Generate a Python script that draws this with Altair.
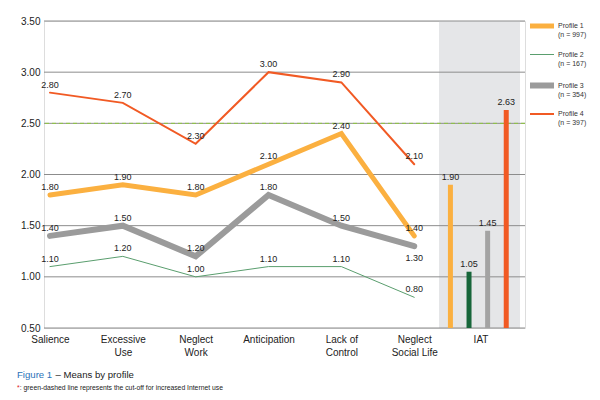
import altair as alt
import pandas as pd

# ---------------- data ----------------
categories = ["Salience", "Excessive Use", "Neglect Work", "Anticipation",
              "Lack of Control", "Neglect Social Life"]
tick_labels = [["Salience"], ["Excessive", "Use"], ["Neglect", "Work"], ["Anticipation"],
               ["Lack of", "Control"], ["Neglect", "Social Life"], ["IAT"]]
profiles = ["Profile 1", "Profile 2", "Profile 3", "Profile 4"]
sample_sizes = [997, 167, 354, 397]
profile1 = [1.80, 1.90, 1.80, 2.10, 2.40, 1.40]
profile2 = [1.10, 1.20, 1.00, 1.10, 1.10, 0.80]
profile3 = [1.40, 1.50, 1.20, 1.80, 1.50, 1.30]
profile4 = [2.80, 2.70, 2.30, 3.00, 2.90, 2.10]
iat_means = [1.90, 1.05, 1.45, 2.63]
y_ticks = [0.5, 1.0, 1.5, 2.0, 2.5, 3.0, 3.5]
cutoff = 2.5

# ---------------- styles ----------------
line_colors = ["#fbb040", "#5a9e6e", "#9b9b9b", "#f15a24"]
bar_colors = ["#fbb040", "#17663a", "#a3a3a3", "#f15a24"]
line_widths = [5, 1, 6, 2]
FONT = "Liberation Sans"

# layout helpers (in x-scale units: one unit per category)
X_MIN, X_MAX = -0.0134, 6.452
PANEL_START = 5.34
IAT_LABEL_POS = 5.91
BAR_CENTER = 5.88
BAR_STEP = 0.2554

rows = []
for p, vals in zip(profiles, [profile1, profile2, profile3, profile4]):
    for i, (c, v) in enumerate(zip(categories, vals)):
        rows.append({"profile": p, "category": c, "pos": i, "value": v,
                     "label": f"{v:.2f}"})
lines_df = pd.DataFrame(rows)
below_mask = (lines_df["profile"] == "Profile 3") & (lines_df["category"] == "Neglect Social Life")

bars_df = pd.DataFrame({"profile": profiles, "value": iat_means, "barcolor": bar_colors})
bars_df["pos"] = [BAR_CENTER + (i - 1.5) * BAR_STEP for i in range(len(profiles))]
bars_df["label"] = [f"{v:.2f}" for v in iat_means]

tick_pos = list(range(len(categories))) + [IAT_LABEL_POS]


def lit(lines):
    if len(lines) == 1:
        return "'" + lines[0] + "'"
    return "[" + ",".join("'" + s + "'" for s in lines) + "]"


x_expr = "''"
for pos, lab in reversed(list(zip(tick_pos, tick_labels))):
    x_expr = f"datum.value == {pos} ? {lit(lab)} : ({x_expr})"

leg_expr = "datum.label"
for p, n in reversed(list(zip(profiles, sample_sizes))):
    leg_expr = f"datum.label == '{p}' ? ['{p}', '(n = {n})'] : ({leg_expr})"

xs = alt.Scale(domain=[X_MIN, X_MAX], nice=False, zero=False)
ys = alt.Scale(domain=[0.5, 3.5], nice=False, zero=False)
x_axis = alt.Axis(values=tick_pos, labelExpr=x_expr, grid=False, ticks=False, domain=False,
                  title=None, labelFontSize=10, labelPadding=6, labelBaseline="top",
                  labelLineHeight=13, labelFlush=False, labelOverlap=False,
                  labelColor="#222222", labelFont=FONT)
y_axis = alt.Axis(values=y_ticks, format=".2f", grid=False, ticks=False, domain=False,
                  title=None, labelFontSize=10, labelPadding=4, labelFlush=False,
                  labelOverlap=False, labelColor="#222222", labelFont=FONT)

legend = alt.Legend(title=None, orient="none", legendX=483, legendY=-9.5, padding=0,
                    symbolType="stroke", symbolSize=576, labelExpr=leg_expr,
                    labelFontSize=7, labelOffset=1, rowPadding=3.5,
                    labelColor="#333333", labelFont=FONT, labelBaseline="middle")

one = pd.DataFrame({"a": [0]})

panel = alt.Chart(one).mark_rect(color="#e5e6e8").encode(
    x=alt.X(datum=PANEL_START, scale=xs, axis=x_axis),
    x2=alt.X2(datum=X_MAX),
    y=alt.Y(datum=0.5, scale=ys, axis=y_axis),
    y2=alt.Y2(datum=3.5),
)

grid = alt.Chart(pd.DataFrame({"tick": y_ticks})).mark_rule(color="#8c8c8c", strokeWidth=1).encode(
    y=alt.Y("tick:Q", scale=ys, axis=y_axis)
)

cut = alt.Chart(one).mark_rule(color="#8dc63f", strokeWidth=1, strokeDash=[4, 3]).encode(
    y=alt.Y(datum=cutoff, scale=ys, axis=y_axis)
)

lines = alt.Chart(lines_df).mark_line(strokeCap="round", strokeJoin="miter").encode(
    x=alt.X("pos:Q", scale=xs, axis=x_axis),
    y=alt.Y("value:Q", scale=ys, axis=y_axis),
    color=alt.Color("profile:N", scale=alt.Scale(domain=profiles, range=line_colors), legend=legend),
    strokeWidth=alt.StrokeWidth("profile:N",
                                scale=alt.Scale(type="ordinal", domain=profiles, range=line_widths),
                                legend=legend),
    detail="profile:N",
)

bars = alt.Chart(bars_df).mark_bar(size=5).encode(
    x=alt.X("pos:Q", scale=xs, axis=x_axis),
    y=alt.Y("value:Q", scale=ys, axis=y_axis),
    y2=alt.Y2(datum=0.5),
    fill=alt.Fill("barcolor:N", scale=None),
)

text_style = dict(fontSize=9, font=FONT, color="#222222", baseline="middle")
labels_above = alt.Chart(lines_df[~below_mask]).mark_text(dy=-8, **text_style).encode(
    x=alt.X("pos:Q", scale=xs, axis=x_axis),
    y=alt.Y("value:Q", scale=ys, axis=y_axis),
    text="label:N",
)
labels_below = alt.Chart(lines_df[below_mask]).mark_text(dy=12, **text_style).encode(
    x=alt.X("pos:Q", scale=xs, axis=x_axis),
    y=alt.Y("value:Q", scale=ys, axis=y_axis),
    text="label:N",
)
bar_labels = alt.Chart(bars_df).mark_text(dy=-8, **text_style).encode(
    x=alt.X("pos:Q", scale=xs, axis=x_axis),
    y=alt.Y("value:Q", scale=ys, axis=y_axis),
    text="label:N",
)

CAP_X = -27
caption_blue = alt.Chart(one).mark_text(
    text="Figure 1", align="left", baseline="middle", fontSize=9.6, font=FONT, color="#2b73b9"
).encode(x=alt.value(CAP_X), y=alt.value(354))
caption_main = alt.Chart(one).mark_text(
    text="\u2013 Means by profile", align="left", baseline="middle",
    fontSize=9.6, font=FONT, color="#222222"
).encode(x=alt.value(CAP_X + 38.5), y=alt.value(354))
note_star = alt.Chart(one).mark_text(
    text="*", align="left", baseline="middle", fontSize=6.8, font=FONT, color="#e02020"
).encode(x=alt.value(CAP_X), y=alt.value(367))
note_main = alt.Chart(one).mark_text(
    text=": green-dashed line represents the cut-off for increased Internet use",
    align="left", baseline="middle", fontSize=6.8, font=FONT, color="#222222"
).encode(x=alt.value(CAP_X + 2.8), y=alt.value(367))

chart = alt.layer(
    panel, grid, cut, lines, bars, labels_above, labels_below, bar_labels,
    caption_main, caption_blue, note_main, note_star
).properties(
    width=481, height=307,
    autosize=alt.AutoSizeParams(type="none"),
    padding={"left": 36, "top": 13, "right": 66, "bottom": 64},
).configure_view(fill="#f1f1f1", stroke=None).configure(font=FONT, background="white")

chart.save("out.html", embed_options={"renderer": "svg", "actions": False})
